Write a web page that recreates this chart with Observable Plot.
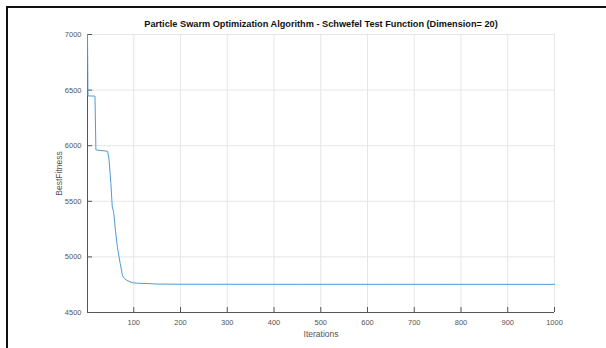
<!DOCTYPE html>
<html>
<head>
<meta charset="utf-8">
<script src="https://cdn.jsdelivr.net/npm/d3@7"></script>
<script src="https://cdn.jsdelivr.net/npm/@observablehq/plot@0.6"></script>
<style>
  html, body { margin: 0; padding: 0; background: #fff; }
  #wrap { position: relative; width: 606px; height: 348px; overflow: hidden; }
  #frame { position: absolute; left: 6px; top: 6px; right: -10px; bottom: -10px;
           border-top: 2.5px solid #111; border-left: 2.5px solid #111; pointer-events: none; }
  svg { font-family: "Liberation Sans", Arial, sans-serif; }
</style>
</head>
<body>
<div id="wrap"><div id="frame"></div></div>
<script>
const iterations = [1, 2, 17, 19, 44, 47, 51, 54, 57, 61, 65, 71, 76, 80, 85, 94, 100, 110, 130, 150, 200, 1000];
const bestFitness = [7000, 6448, 6446, 5962, 5950, 5880, 5660, 5450, 5400, 5230, 5085, 4940, 4830, 4805, 4790, 4772, 4766, 4763, 4760, 4756, 4754, 4753];
const xTicks = [100, 200, 300, 400, 500, 600, 700, 800, 900, 1000];
const yTicks = [4500, 5000, 5500, 6000, 6500, 7000];
const title = "Particle Swarm Optimization Algorithm - Schwefel Test Function (Dimension= 20)";
const xLabel = "Iterations";
const yLabel = "BestFitness";

const data = iterations.map((it, i) => ({it, v: bestFitness[i]}));

const W = 606, H = 348, mL = 87, mR = 52, mT = 34, mB = 36;
const pw = W - mL - mR, ph = H - mT - mB;

const chart = Plot.plot({
  width: W, height: H,
  marginLeft: mL, marginRight: mR, marginTop: mT, marginBottom: mB,
  x: {domain: [1, 1000]},
  y: {domain: [4500, 7000]},
  style: {fontSize: "7.5px", color: "#444", background: "transparent"},
  marks: [
    Plot.gridX(xTicks, {stroke: "#e6e6e6", strokeOpacity: 1}),
    Plot.gridY(yTicks, {stroke: "#e6e6e6", strokeOpacity: 1}),
    Plot.ruleX(xTicks, {stroke: "#555", insetTop: ph - 5}),
    Plot.ruleY(yTicks, {stroke: "#555", insetRight: pw - 5}),
    Plot.ruleX([1], {stroke: "#555"}),
    Plot.ruleY([4500], {stroke: "#555"}),
    Plot.axisX(xTicks, {tickSize: 0, tickPadding: 7, fill: "#555", label: null, tickFormat: d3.format("d")}),
    Plot.axisY(yTicks, {tickSize: 0, tickPadding: 6, fill: "#555", label: null, tickFormat: d3.format("d")}),
    Plot.line(data, {x: "it", y: "v", stroke: "#4d9bd8", strokeWidth: 1}),
    Plot.text([title], {frameAnchor: "top", dy: -14, fontWeight: "bold", fontSize: 9.2, fill: "#111"}),
    Plot.text([xLabel], {frameAnchor: "bottom", dy: 24, fontSize: 8.5, fill: "#555"}),
    Plot.text([yLabel], {frameAnchor: "left", textAnchor: "middle", dx: -28, rotate: -90, fontSize: 8.5, fill: "#555"})
  ]
});
document.getElementById("wrap").prepend(chart);
</script>
</body>
</html>
